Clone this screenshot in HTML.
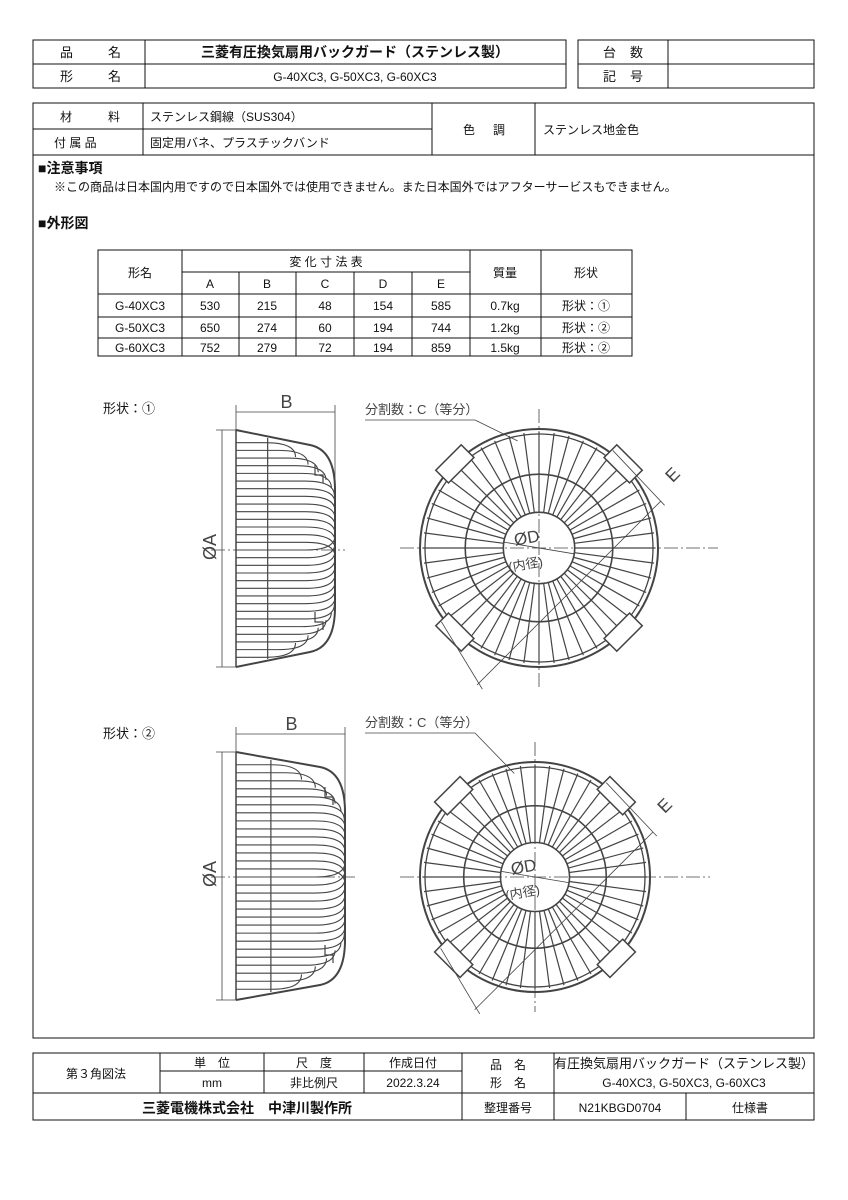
<!DOCTYPE html>
<html><head><meta charset="utf-8"><style>
body{margin:0;background:#fff;width:848px;height:1200px;overflow:hidden;font-family:"Liberation Sans","Noto Sans CJK JP",sans-serif;color:#111}
svg{position:absolute;left:0;top:0}
</style></head><body>
<svg id="s" width="848" height="1200" viewBox="0 0 848 1200" font-family="Liberation Sans, Noto Sans CJK JP, sans-serif" fill="none" stroke="#222">
<g stroke="#111" stroke-width="1">
<rect x="33" y="40" width="533" height="48"/><line x1="33" y1="64" x2="566" y2="64"/><line x1="145" y1="40" x2="145" y2="88"/>
<rect x="578" y="40" width="236" height="48"/><line x1="578" y1="64" x2="814" y2="64"/><line x1="668" y1="40" x2="668" y2="88"/>
<rect x="33" y="103" width="781" height="935"/>
<line x1="33" y1="129" x2="432" y2="129"/><line x1="33" y1="155" x2="814" y2="155"/>
<line x1="143" y1="103" x2="143" y2="155"/><line x1="432" y1="103" x2="432" y2="155"/><line x1="535" y1="103" x2="535" y2="155"/>
<rect x="98" y="250" width="534" height="106"/>
<line x1="182" y1="272" x2="470" y2="272"/><line x1="98" y1="294" x2="632" y2="294"/>
<line x1="98" y1="317" x2="632" y2="317"/><line x1="98" y1="338" x2="632" y2="338"/>
<line x1="182" y1="250" x2="182" y2="356"/><line x1="470" y1="250" x2="470" y2="356"/><line x1="541" y1="250" x2="541" y2="356"/>
<line x1="239" y1="272" x2="239" y2="356"/><line x1="296" y1="272" x2="296" y2="356"/><line x1="354" y1="272" x2="354" y2="356"/><line x1="412" y1="272" x2="412" y2="356"/>
<rect x="33" y="1053" width="781" height="67"/>
<line x1="160" y1="1071" x2="462" y2="1071"/><line x1="33" y1="1093" x2="814" y2="1093"/>
<line x1="160" y1="1053" x2="160" y2="1093"/><line x1="264" y1="1053" x2="264" y2="1093"/><line x1="364" y1="1053" x2="364" y2="1093"/>
<line x1="462" y1="1053" x2="462" y2="1120"/><line x1="554" y1="1053" x2="554" y2="1120"/><line x1="686" y1="1093" x2="686" y2="1120"/>
</g>
<g id="draw" stroke="#444" stroke-width="1.3"></g>
<g fill="#111" stroke="none" font-size="13">
<text x="60" y="57">品</text><text x="108" y="57">名</text>
<text x="355" y="57" text-anchor="middle" font-weight="bold" font-size="14">三菱有圧換気扇用バックガード（ステンレス製）</text>
<text x="60" y="81">形</text><text x="108" y="81">名</text>
<text x="355" y="81" text-anchor="middle" font-size="12">G-40XC3, G-50XC3, G-60XC3</text>
<text x="603" y="57">台</text><text x="630" y="57">数</text><text x="603" y="81">記</text><text x="630" y="81">号</text>
<text x="60" y="121" font-size="12">材</text><text x="108" y="121" font-size="12">料</text>
<text x="150" y="121" font-size="12">ステンレス鋼線（SUS304）</text>
<text x="54" y="147" font-size="12">付 属 品</text>
<text x="150" y="147" font-size="12">固定用バネ、プラスチックバンド</text>
<text x="463" y="134" font-size="12">色</text><text x="493" y="134" font-size="12">調</text>
<text x="543" y="134" font-size="12">ステンレス地金色</text>
<text x="38" y="173" font-weight="bold" font-size="14">■注意事項</text>
<text x="54" y="191" font-size="12">※この商品は日本国内用ですので日本国外では使用できません。また日本国外ではアフターサービスもできません。</text>
<text x="38" y="228" font-weight="bold" font-size="14">■外形図</text>
<g font-size="12" text-anchor="middle">
<text x="140" y="277">形名</text><text x="326" y="266">変 化 寸 法 表</text>
<text x="505" y="277">質量</text><text x="586" y="277">形状</text>
<text x="210" y="288">A</text><text x="267" y="288">B</text><text x="325" y="288">C</text><text x="383" y="288">D</text><text x="441" y="288">E</text>
<text x="140" y="310">G-40XC3</text><text x="210" y="310">530</text><text x="267" y="310">215</text><text x="325" y="310">48</text><text x="383" y="310">154</text><text x="441" y="310">585</text><text x="505" y="310">0.7kg</text><text x="586" y="310">形状：①</text>
<text x="140" y="332">G-50XC3</text><text x="210" y="332">650</text><text x="267" y="332">274</text><text x="325" y="332">60</text><text x="383" y="332">194</text><text x="441" y="332">744</text><text x="505" y="332">1.2kg</text><text x="586" y="332">形状：②</text>
<text x="140" y="352">G-60XC3</text><text x="210" y="352">752</text><text x="267" y="352">279</text><text x="325" y="352">72</text><text x="383" y="352">194</text><text x="441" y="352">859</text><text x="505" y="352">1.5kg</text><text x="586" y="352">形状：②</text>
</g>
<text x="103" y="413">形状：①</text><text x="103" y="738">形状：②</text>
<text x="365" y="414" font-size="13" fill="#444">分割数：C（等分）</text>
<text x="365" y="727" font-size="13" fill="#444">分割数：C（等分）</text>
<g font-size="12" text-anchor="middle">
<text x="96" y="1078">第３角図法</text>
<text x="212" y="1067">単　位</text><text x="314" y="1067">尺　度</text><text x="413" y="1067">作成日付</text>
<text x="212" y="1087">mm</text><text x="314" y="1087">非比例尺</text><text x="413" y="1087">2022.3.24</text>
<text x="508" y="1069">品　名</text><text x="508" y="1087">形　名</text>
<text x="684" y="1068" font-size="13">有圧換気扇用バックガード（ステンレス製）</text>
<text x="684" y="1087">G-40XC3, G-50XC3, G-60XC3</text>
<text x="247" y="1113" font-size="14" font-weight="bold">三菱電機株式会社　中津川製作所</text>
<text x="508" y="1112">整理番号</text><text x="620" y="1112">N21KBGD0704</text><text x="750" y="1112">仕様書</text>
</g>
</g>
</svg>
<script>
var g=document.getElementById('draw'),NS='http://www.w3.org/2000/svg';
function el(t,a){var e=document.createElementNS(NS,t);for(var k in a)e.setAttribute(k,a[k]);g.appendChild(e);return e;}
function L(a,b,c,d,w,dash){var o={x1:a,y1:b,x2:c,y2:d};if(w)o['stroke-width']=w;if(dash)o['stroke-dasharray']=dash;return el('line',o);}
function T(x,y,s,sz,rot){var t=el('text',{x:x,y:y,fill:'#444',stroke:'none','font-size':sz||16});if(rot)t.setAttribute('transform','rotate('+rot+' '+x+' '+y+')');t.textContent=s;}
function side(x0,x1,y0,y1,cy){
 L(x0,y0-18,x1,y0-18,0.8);L(x0,y0-25,x0,y0,0.8);L(x1,y0-25,x1,cy,0.8);
 L(x0-14,y0,x0-14,y1,0.8);L(x0-20,y0,x0,y0,0.8);L(x0-20,y1,x0,y1,0.8);
 L(x0-25,cy,x1+10,cy,0.8,'14 3 2 3');
 T((x0+x1)/2-5,y0-22,'B',18);T(x0-20,cy+10,'ØA',18,-90);
 var h=(y1-y0)/2,n=30,xm=x0+(x1-x0)*0.32;
 L(x0,y0,x0,y1,1.5);L(xm,y0+8,xm,y1-8,1.2);
 var W=x1-x0;
 for(var i=1;i<n;i++){var t=-1+2*i/n,y=cy+t*h*0.97;var at=Math.abs(t),s=t<0?-1:1;
  // outline x at this height
  var xo;if(at<0.55)xo=x1;else{var u=(at-0.55)/0.45;xo=x1-W*0.55*u*u;}
  var xs=xo-Math.min(30,W*0.3);
  var yb=y+s*0;var ye=cy+t*h*0.97*0.8;
  el('path',{d:'M'+x0+' '+y+' L'+xs+' '+y+' Q'+xo+' '+y+' '+xo+' '+(y-s*Math.min(25,h*0.12)),'stroke-width':1.1});}
 el('path',{d:'M'+x0+' '+y0+' L'+(x1-25)+' '+(y0+15)+' Q'+x1+' '+(y0+20)+' '+x1+' '+(y0+60)+' L'+x1+' '+(y1-60)+' Q'+x1+' '+(y1-20)+' '+(x1-25)+' '+(y1-15)+' L'+x0+' '+y1,'stroke-width':2});
 // spring brackets
 el('path',{d:'M'+(x1-20)+' '+(y0+35)+' v10 h8 v8','stroke-width':1.2});
 el('path',{d:'M'+(x1-20)+' '+(y1-55)+' v10 h8 v8','stroke-width':1.2});
}
function front(cx,cy,R,lbly,lblx){
 L(cx-R-20,cy,cx+R+60,cy,0.8,'14 3 2 3');L(cx,cy-R-20,cx,cy+R+20,0.8,'14 3 2 3');
 el('circle',{cx:cx,cy:cy,r:R,'stroke-width':2});el('circle',{cx:cx,cy:cy,r:R-5,'stroke-width':1.3});
 el('circle',{cx:cx,cy:cy,r:R*0.62,'stroke-width':1.6});el('circle',{cx:cx,cy:cy,r:R*0.3,'stroke-width':1.6});
 for(var i=0;i<48;i++){var a=i*Math.PI/24;L(cx+Math.cos(a)*R*0.3,cy+Math.sin(a)*R*0.3,cx+Math.cos(a)*(R-3),cy+Math.sin(a)*(R-3),1.2);}
 [45,135,225,315].forEach(function(d){var a=d*Math.PI/180,px=cx+Math.cos(a)*R,py=cy+Math.sin(a)*R;
  el('rect',{x:px-18,y:py-9,width:36,height:18,fill:'#fff','stroke-width':1.5,transform:'rotate('+(d+90)+' '+px+' '+py+')'});});
 var n1x=cx+R*0.7071+R*0.35*0.7071,n1y=cy-R*0.7071+R*0.35*0.7071;
 L(cx+R*0.62,cy-R*0.82,n1x+12,n1y+12,0.8);
 L(cx-R*0.82,cy+R*0.62,cx-R*0.35-15,cy+R*1.06+15,0.8);
 L(n1x+8,n1y+8,cx-R*0.42-12,cy+R*1.05+12,0.8);
 T(n1x+20,n1y-10,'E',18,-45);
 L(cx-R*0.3,cy-R*0.05,cx+R*0.3,cy+R*0.05,0.8);
 T(cx-R*0.2,cy-R*0.02,'ØD',17,-10);T(cx-R*0.25,cy+R*0.2,'(内径)',13,-10);
 L(lblx,lbly,lblx+110,lbly,0.8);L(lblx+110,lbly,cx-R*0.18,cy-R*0.9,0.8);
}
side(236,335,430,667,550);front(539,548,119,420,365);
side(236,345,752,1000,877);front(535,877,115,733,365);
</script>
</body></html>
